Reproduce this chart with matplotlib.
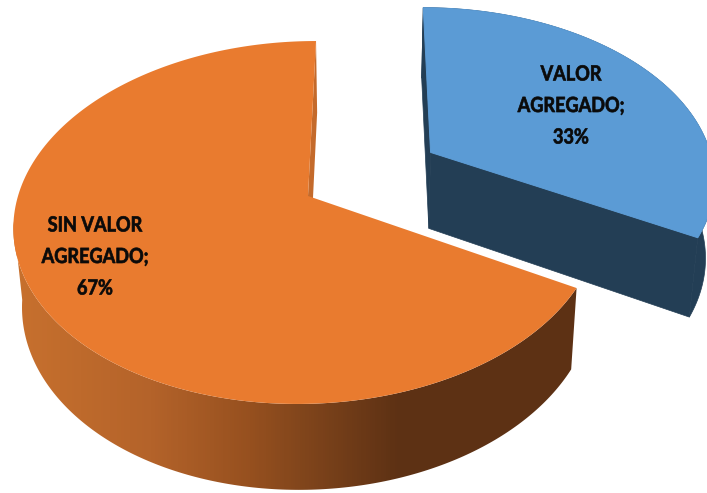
import numpy as np
import matplotlib
matplotlib.use("Agg")
import matplotlib.pyplot as plt
from matplotlib.colors import LinearSegmentedColormap
from matplotlib.patches import Polygon
from matplotlib.patheffects import AbstractPathEffect
from matplotlib.transforms import Affine2D

categories = ["VALOR\nAGREGADO;", "SIN VALOR\nAGREGADO;"]
values = [33, 67]

# layout of the fake 3d pie, all in pixels
START = 90
CX, CY = 308, 196
RX, RY = 290, 177.6
SHEAR = 9.2
P = 0.146
BOT_CY, BOT_RY = 273.7, 184.6
EXPLODE = 0.5
BLUE, BLUE_DARK = "#5B9BD5", "#233E55"
ORANGE, ORANGE_FACE = "#E97B2F", "#C46A2B"
TEXT_COLOR = "#0a0a0a"
side_stops = [(10, "#C8712E"), (150, "#B4632A"), (250, "#96501F"),
              (300, "#82461C"), (400, "#5D3114"), (590, "#5D3114")]
label_pos = [(571, 106), (95, 257)]


class Squeeze(AbstractPathEffect):
    # calibri is narrower and heavier than anything installed, so pinch and thicken the glyphs
    def __init__(self, cx, sx, stroke):
        super().__init__()
        self.cx, self.sx, self.stroke = cx, sx, stroke

    def draw_path(self, renderer, gc, tpath, affine, rgbFace=None):
        t = affine + Affine2D().translate(-self.cx, 0).scale(self.sx, 1).translate(self.cx, 0)
        gc0 = renderer.new_gc()
        gc0.copy_properties(gc)
        gc0.set_linewidth(self.stroke)
        gc0.set_foreground(TEXT_COLOR)
        renderer.draw_path(gc0, tpath, t, rgbFace)
        gc0.restore()


def top(x, y):
    f = 1 / (1 + P * y)
    return np.column_stack([CX + (RX * x + SHEAR * y) * f, CY - RY * y * f])


def bottom(x, y):
    f = 1 / (1 + P * y)
    return np.column_stack([0.975 * (CX + (RX * x + SHEAR * y) * f) + 9, BOT_CY - BOT_RY * y * f])


def rim(a0, a1, ox=0.0, oy=0.0, n=200):
    a = np.radians(np.linspace(a0, a1, n))
    return np.cos(a) + ox, np.sin(a) + oy


def wall(xs, ys):
    return np.vstack([top(xs, ys), bottom(xs, ys)[::-1]])


fig = plt.figure(figsize=(7.07, 4.93), dpi=100)
ax = fig.add_axes([0, 0, 1, 1])

sweep = [v / sum(values) * 360 for v in values]
blue_end = START - sweep[0]
mid = np.radians(START - sweep[0] / 2)
ox, oy = EXPLODE * np.cos(mid), EXPLODE * np.sin(mid)

# orange slice
xs, ys = rim(START, START + sweep[1])
ax.add_patch(Polygon(wall(np.array([0, xs[0]]), np.array([0, ys[0]])), color=ORANGE_FACE, lw=0))
vx, vy = rim(188, START + sweep[1])
side = Polygon(wall(vx, vy), closed=True, fc="none", ec="none")
ax.add_patch(side)
cols = [((p - 10) / 580, c) for p, c in side_stops]
cmap = LinearSegmentedColormap.from_list("side", cols)
img = ax.imshow(np.linspace(0, 1, 580).reshape(1, -1), cmap=cmap, extent=(10, 590, 493, 200),
                aspect="auto", zorder=2)
img.set_clip_path(side)
ax.add_patch(Polygon(np.vstack([top(np.zeros(1), np.zeros(1)), top(xs, ys)]), color=ORANGE, lw=0, zorder=3))

# blue slice, pulled out of the pie
bx, by = rim(blue_end, START, ox, oy)
for px, py in [(bx, by), (np.array([ox, bx[0]]), np.array([oy, by[0]])), (np.array([ox, bx[-1]]), np.array([oy, by[-1]]))]:
    ax.add_patch(Polygon(wall(px, py), fc=BLUE_DARK, ec=BLUE_DARK, lw=0.5, zorder=4))
ax.add_patch(Polygon(np.vstack([top(np.array([ox]), np.array([oy])), top(bx, by)]), fc=BLUE, ec=BLUE, lw=0.7, zorder=5))

for cat, v, (tx, ty) in zip(categories, values, label_pos):
    ax.text(tx, ty, "%s\n%d%%" % (cat, v), ha="center", va="center", fontsize=15, fontweight="bold",
            family="Lato", color=TEXT_COLOR, linespacing=1.72, zorder=6,
            path_effects=[Squeeze(tx, 0.87, 0.5)])

ax.set_xlim(0, 707)
ax.set_ylim(493, 0)
ax.axis("off")
fig.savefig("out.png", dpi=100)
